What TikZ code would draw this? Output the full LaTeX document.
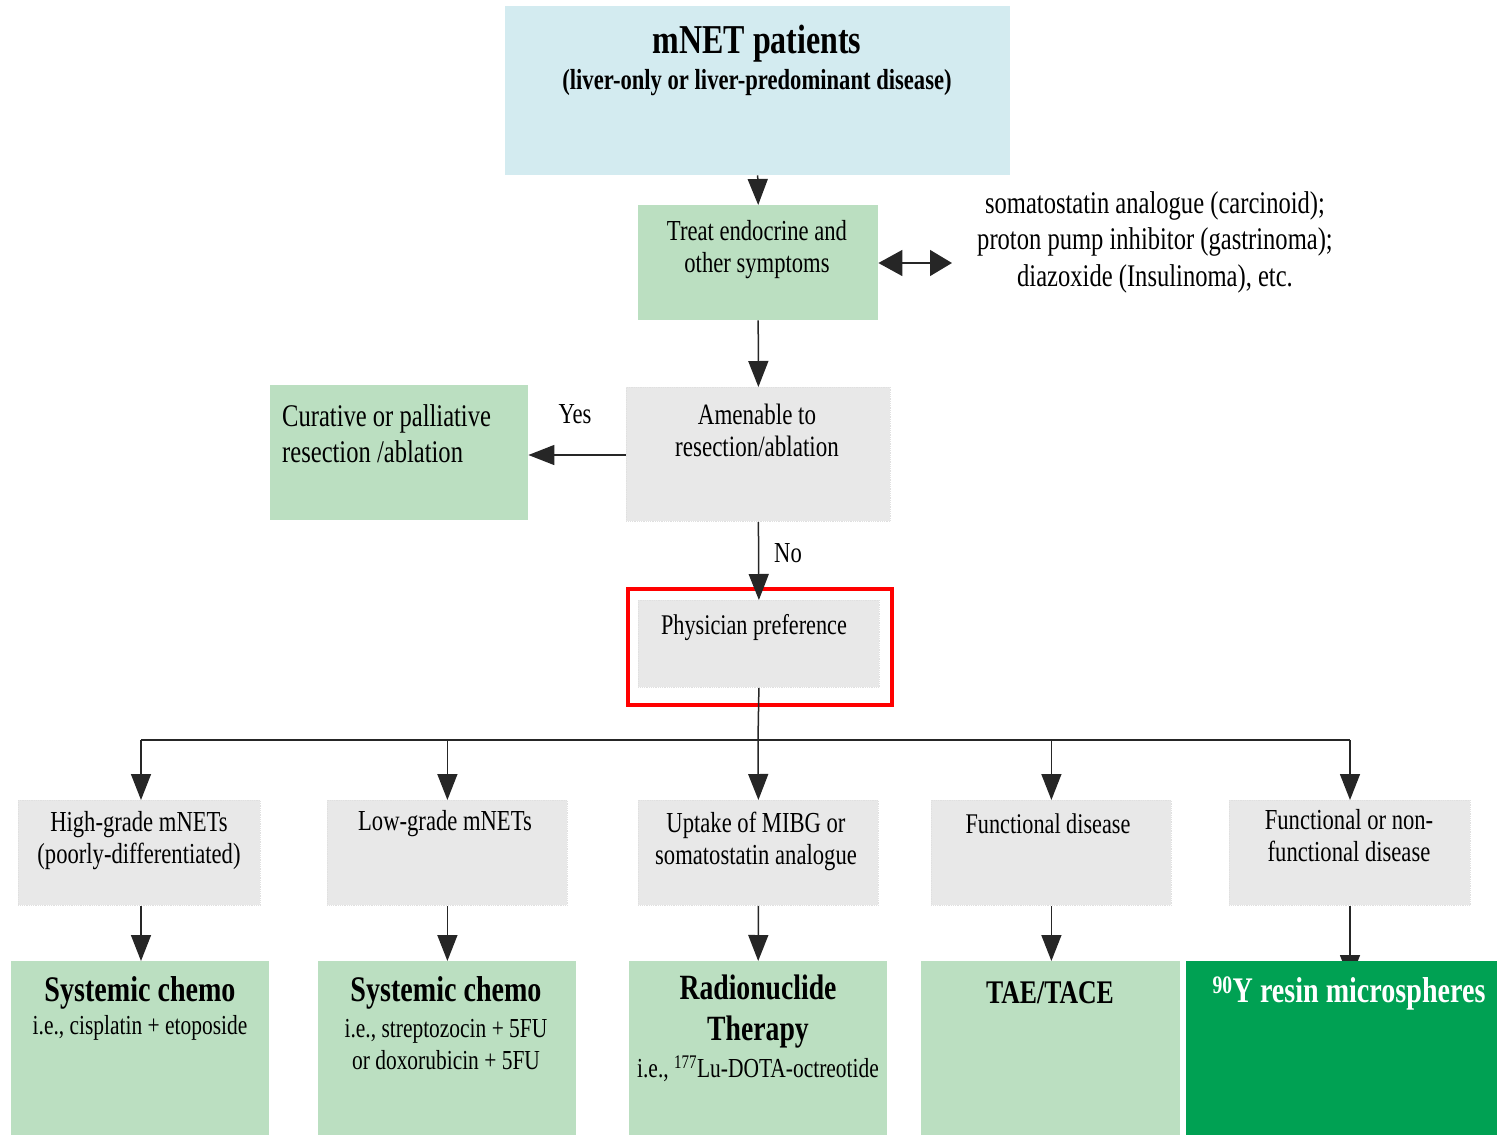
\documentclass[tikz,border=0pt]{standalone}
\usepackage{fontspec}
\setmainfont[FakeStretch=0.78]{Liberation Serif}
\usetikzlibrary{arrows.meta}
\pgfdeclarelayer{background}
\pgfsetlayers{background,main}
\definecolor{topblue}{HTML}{D3EBF0}
\definecolor{lgreen}{HTML}{BBDFC1}
\definecolor{lgray}{HTML}{E8E8E8}
\definecolor{dgreen}{HTML}{00A153}
\definecolor{hired}{HTML}{FF0000}
\tikzset{
  box/.style={rectangle, inner sep=0, anchor=north west},
  bluebox/.style={box, fill=topblue},
  greenbox/.style={box, fill=lgreen},
  graybox/.style={box, fill=lgray, draw=black!12, densely dotted, line width=0.8pt},
  darkbox/.style={box, fill=dgreen},
  txt/.style={inner sep=0, align=center, font=\fontsize{29}{32}\selectfont},
  subtxt/.style={inner sep=0, align=center, font=\fontsize{27.5}{32}\selectfont},
  bigtxt/.style={inner sep=0, align=center, font=\fontsize{36}{41}\selectfont\bfseries},
  conn/.style={line width=1.5pt, black!85},
  arr/.style={conn, -{Triangle[width=20pt,length=26pt]}},
  darr/.style={conn, {Triangle[width=26pt,length=24pt]}-{Triangle[width=26pt,length=22pt]}},
}
\begin{document}
\begin{tikzpicture}[x=1pt,y=-1pt]
\useasboundingbox (0,0) rectangle (1497,1135);
% boxes
\node[bluebox, minimum width=505pt, minimum height=169pt] (top) at (505,6) {};
\node[greenbox, minimum width=240pt, minimum height=115pt] (treat) at (638,205) {};
\node[graybox, minimum width=264pt, minimum height=134pt] (amen) at (626,387) {};
\node[greenbox, minimum width=258pt, minimum height=135pt] (cur) at (270,385) {};
\node[graybox, minimum width=241pt, minimum height=87pt] (phys) at (638,600) {};
\node[box, draw=hired, line width=4pt, minimum width=264pt, minimum height=116pt] (redbox) at (626,587) {};
% row 1 gray
\node[graybox, minimum width=242pt, minimum height=105pt] (g1) at (18,800) {};
\node[graybox, minimum width=240pt, minimum height=105pt] (g2) at (327,800) {};
\node[graybox, minimum width=240pt, minimum height=105pt] (g3) at (638,800) {};
\node[graybox, minimum width=240pt, minimum height=105pt] (g4) at (931,800) {};
\node[graybox, minimum width=241pt, minimum height=105pt] (g5) at (1229,800) {};
% row 2 green
\node[greenbox, minimum width=258pt, minimum height=175pt] (r1) at (11,961) {};
\node[greenbox, minimum width=258pt, minimum height=175pt] (r2) at (318,961) {};
\node[greenbox, minimum width=258pt, minimum height=175pt] (r3) at (629,961) {};
\node[greenbox, minimum width=259pt, minimum height=175pt] (r4) at (921,961) {};
\node[darkbox, minimum width=311pt, minimum height=175pt] (r5) at (1186,961) {};
% texts
\node[inner sep=0, font=\fontsize{41}{48}\selectfont\bfseries] (ttitle) at (757,44) {mNET patients};
\node[inner sep=0, font=\fontsize{29}{32}\selectfont\bfseries] (tsub) at (757,83) {(liver-only or liver-predominant disease)};
\node[txt] (ttreat) at (757,250) {Treat endocrine and\\other symptoms};
\node[txt, font=\fontsize{31.5}{36.5}\selectfont] (tside) at (1155,242) {somatostatin analogue (carcinoid);\\proton pump inhibitor (gastrinoma);\\diazoxide (Insulinoma), etc.};
\node[txt, font=\fontsize{29.5}{32}\selectfont] (tamen) at (757,430) {Amenable to\\resection/ablation};
\node[txt, align=left, anchor=west, font=\fontsize{31.5}{36}\selectfont] (tcur) at (282,434) {Curative or palliative\\resection /ablation};
\node[txt] (tyes) at (575,414) {Yes};
\node[txt] (tno) at (788,553) {No};
\node[txt, font=\fontsize{28.5}{32}\selectfont] (tphys) at (754,628) {Physician preference};
\node[txt] (tg1) at (139,841) {High-grade mNETs\\(poorly-differentiated)};
\node[txt] (tg2) at (445,824) {Low-grade mNETs};
\node[txt] (tg3) at (756,841) {Uptake of MIBG or\\somatostatin analogue};
\node[txt, font=\fontsize{28.5}{32}\selectfont] (tg4) at (1048,824) {Functional disease};
\node[txt] (tg5) at (1349,836) {Functional or non-\\functional disease};
\node[bigtxt] (tr1a) at (140,993) {Systemic chemo};
\node[subtxt] (tr1b) at (140,1028) {i.e., cisplatin + etoposide};
\node[bigtxt] (tr2a) at (446,993) {Systemic chemo};
\node[subtxt] (tr2b) at (446,1045) {i.e., streptozocin + 5FU\\or doxorubicin + 5FU};
\node[bigtxt, font=\fontsize{35.5}{41}\selectfont\bfseries] (tr3a) at (758,1012) {Radionuclide\\Therapy};
\node[subtxt] (tr3b) at (758,1069) {i.e., \textsuperscript{177}Lu-DOTA-octreotide};
\node[bigtxt, font=\fontsize{33}{41}\selectfont\bfseries] (tr4a) at (1050,993) {TAE/TACE};
\node[bigtxt, text=white] (tr5a) at (1349,993) {\textsuperscript{90}Y resin microspheres};
% connectors
\draw[arr] (top.south) -- (treat.north);
\coordinate (sideend) at (952,263);
\draw[darr] (treat.east |- sideend) -- (sideend);
\draw[arr] (treat.south) -- (amen.north);
\coordinate (yesy) at (0,455);
\draw[arr] (amen.west |- yesy) -- (cur.east |- yesy);
\draw[arr] (amen.south) -- (phys.north);
\coordinate (busc) at (758,740);
\coordinate (busl) at (141,740);
\coordinate (busr) at (1350,740);
\draw[conn] (phys.south) -- (busc);
\draw[conn] (busl) -- (busr);
\draw[arr] (busl) -- (busl |- g1.north);
\draw[arr] (g2.north |- busc) -- (g2.north);
\draw[arr] (busc) -- (g3.north);
\draw[arr] (g4.north |- busc) -- (g4.north);
\draw[arr] (busr) -- (busr |- g5.north);
\draw[arr] (g1.south -| busl) -- (busl |- r1.north);
\draw[arr] (g2.south) -- (g2.south |- r2.north);
\draw[arr] (g3.south) -- (r3.north);
\draw[arr] (g4.south) -- (g4.south |- r4.north);
\begin{pgfonlayer}{background}
\draw[arr] (g5.south -| busr) -- ([yshift=-20pt]busr |- r5.north);
\end{pgfonlayer}
\end{tikzpicture}
\end{document}
